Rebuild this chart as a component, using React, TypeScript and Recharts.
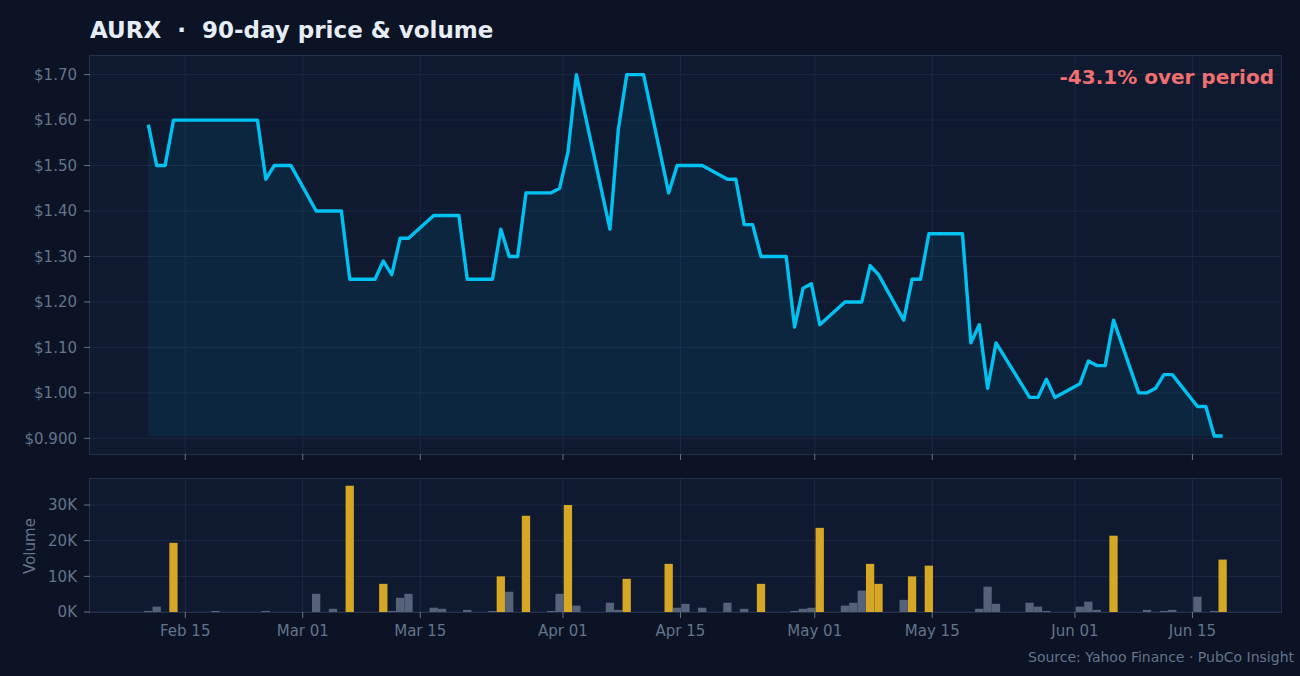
import { Area, AreaChart, Bar, BarChart, CartesianGrid, Cell, XAxis, YAxis } from 'recharts';

const YEAR = 2026;

// trading sessions (MM-DD), closing price and volume
const dates = [
  '02-10', '02-11', '02-12', '02-13', '02-17', '02-18', '02-19', '02-20', '02-23', '02-24',
  '02-25', '02-26', '02-27', '03-02', '03-03', '03-04', '03-05', '03-06', '03-09', '03-10',
  '03-11', '03-12', '03-13', '03-16', '03-17', '03-18', '03-19', '03-20', '03-23', '03-24',
  '03-25', '03-26', '03-27', '03-30', '03-31', '04-01', '04-02', '04-06', '04-07', '04-08',
  '04-09', '04-10', '04-13', '04-14', '04-15', '04-16', '04-17', '04-20', '04-21', '04-22',
  '04-23', '04-24', '04-27', '04-28', '04-29', '04-30', '05-01', '05-04', '05-05', '05-06',
  '05-07', '05-08', '05-11', '05-12', '05-13', '05-14', '05-15', '05-18', '05-19', '05-20',
  '05-21', '05-22', '05-26', '05-27', '05-28', '05-29', '06-01', '06-02', '06-03', '06-04',
  '06-05', '06-08', '06-09', '06-10', '06-11', '06-12', '06-15', '06-16', '06-17', '06-18',
];

const prices = [
  1.59, 1.5, 1.5, 1.6, 1.6, 1.6, 1.6, 1.6, 1.6, 1.47,
  1.5, 1.5, 1.5, 1.4, 1.4, 1.4, 1.4, 1.25, 1.25, 1.29,
  1.26, 1.34, 1.34, 1.39, 1.39, 1.39, 1.39, 1.25, 1.25, 1.36,
  1.3, 1.3, 1.44, 1.44, 1.45, 1.53, 1.7, 1.36, 1.58, 1.7,
  1.7, 1.7, 1.44, 1.5, 1.5, 1.5, 1.5, 1.47, 1.47, 1.37,
  1.37, 1.3, 1.3, 1.145, 1.23, 1.24, 1.15, 1.2, 1.2, 1.2,
  1.28, 1.26, 1.16, 1.25, 1.25, 1.35, 1.35, 1.35, 1.11, 1.15,
  1.01, 1.11, 0.99, 0.99, 1.03, 0.99, 1.02, 1.07, 1.06, 1.06,
  1.16, 1.0, 1.0, 1.01, 1.04, 1.04, 0.97, 0.97, 0.905, 0.905,
];

const volumes = [
  300, 1500, 0, 19400, 0, 300, 0, 0, 0, 300,
  0, 0, 0, 5100, 0, 900, 0, 35400, 0, 7900,
  300, 4000, 5100, 1200, 900, 0, 0, 600, 300, 10000,
  5700, 0, 27000, 300, 5100, 30000, 1800, 2600, 600, 9300,
  0, 0, 13500, 1200, 2300, 0, 1200, 2600, 0, 900,
  0, 7900, 0, 300, 900, 1200, 23600, 1800, 2600, 6000,
  13500, 7900, 3400, 10000, 0, 13000, 0, 0, 0, 900,
  7100, 2300, 2600, 1500, 300, 0, 1500, 2900, 600, 0,
  21400, 0, 600, 0, 300, 600, 4300, 0, 300, 14700,
];

const xTickDates = ['02-15', '03-01', '03-15', '04-01', '04-15', '05-01', '05-15', '06-01', '06-15'];
const priceTicks = [0.9, 1.0, 1.1, 1.2, 1.3, 1.4, 1.5, 1.6, 1.7];
const volumeTicks = [0, 10000, 20000, 30000];

const HIGH_VOLUME = 7500;
const SESSION_OFFSET = 0.6;
const X_DOMAIN: [number, number] = [-11.35, 130.55];
const MONTHS = ['Jan', 'Feb', 'Mar', 'Apr', 'May', 'Jun', 'Jul', 'Aug', 'Sep', 'Oct', 'Nov', 'Dec'];
const ORIGIN = Date.UTC(YEAR, 1, 15);

const dayOf = (md: string) => {
  const [m, d] = md.split('-').map(Number);
  return (Date.UTC(YEAR, m - 1, d) - ORIGIN) / 864e5;
};
const fmtDay = (t: number) => {
  const dt = new Date(ORIGIN + Math.round(t) * 864e5);
  return `${MONTHS[dt.getUTCMonth()]} ${String(dt.getUTCDate()).padStart(2, '0')}`;
};
const fmtPrice = (v: number) => (v < 1 ? `$${v.toFixed(3)}` : `$${v.toFixed(2)}`);

const rows = dates.map((d, i) => ({ t: dayOf(d) + SESSION_OFFSET, price: prices[i], volume: volumes[i] }));
const xTicks = xTickDates.map(dayOf);
const minPrice = Math.min(...prices);
const change = (prices[prices.length - 1] / prices[0] - 1) * 100;

const FONT = '"DejaVu Sans", sans-serif';
const BG = '#0b1324';
const PANEL = '#0f1a30';
const FRAME = '#22304a';
const GRID = '#1c2841';
const MUTED = '#64748b';
const LINE = '#00c2f2';
const GOLD = '#d6a625';
const GRAY = '#56627a';

const tickStyle = { fill: MUTED, fontSize: 15, fontFamily: FONT };

function Frame({ top, height }: { top: number; height: number }) {
  return (
    <div
      style={{
        position: 'absolute', left: 89, top: top - 1, width: 1193, height: height + 2,
        background: PANEL, border: `1px solid ${FRAME}`, boxSizing: 'border-box',
      }}
    />
  );
}

export default function App() {
  return (
    <div style={{ position: 'fixed', left: 0, top: 0, width: 1300, height: 676, background: BG, overflow: 'hidden' }}>
      <Frame top={56} height={398} />
      <Frame top={479} height={133} />

      <div style={{ position: 'absolute', left: 0, top: 0 }}>
        <AreaChart width={1300} height={484} data={rows} margin={{ top: 56, right: 19, left: 0, bottom: 0 }}>
          <CartesianGrid stroke={GRID} vertical horizontal verticalValues={xTicks} horizontalValues={priceTicks} />
          <XAxis
            dataKey="t" type="number" domain={X_DOMAIN} ticks={xTicks} allowDataOverflow height={30}
            axisLine={false} tickLine={{ stroke: MUTED }} tickSize={6} tick={() => <g />}
          />
          <YAxis
            type="number" domain={[0.8655, 1.741]} ticks={priceTicks} allowDataOverflow width={90}
            axisLine={false} tickLine={{ stroke: MUTED }} tickSize={6} tickMargin={7}
            tick={tickStyle} tickFormatter={fmtPrice}
          />
          <Area
            type="linear" dataKey="price" baseValue={minPrice} stroke={LINE} strokeWidth={3.4}
            strokeLinejoin="round" fill={LINE} fillOpacity={0.08} dot={false} activeDot={false}
            isAnimationActive={false}
          />
        </AreaChart>
      </div>

      <div style={{ position: 'absolute', left: 0, top: 470 }}>
        <BarChart width={1300} height={206} data={rows} margin={{ top: 9, right: 19, left: 0, bottom: 24 }}>
          <XAxis
            dataKey="t" type="number" domain={X_DOMAIN} ticks={xTicks} allowDataOverflow height={40}
            axisLine={false} tickLine={{ stroke: MUTED }} tickSize={6} tickMargin={7}
            tick={tickStyle} tickFormatter={fmtDay}
          />
          <YAxis
            type="number" domain={[0, 37300]} ticks={volumeTicks} allowDataOverflow width={90}
            axisLine={false} tickLine={{ stroke: MUTED }} tickSize={6} tickMargin={7}
            tick={tickStyle} tickFormatter={(v: number) => `${v / 1000}K`}
          />
          <Bar dataKey="volume" barSize={8.3} isAnimationActive={false}>
            {rows.map((r) => (
              <Cell key={r.t} fill={r.volume >= HIGH_VOLUME ? GOLD : GRAY} />
            ))}
          </Bar>
          <CartesianGrid stroke="#2a3650" strokeOpacity={0.6} vertical horizontal verticalValues={xTicks} horizontalValues={volumeTicks} />
        </BarChart>
      </div>

      <svg width={1300} height={676} style={{ position: 'absolute', left: 0, top: 0, pointerEvents: 'none' }}>
        <text x={90} y={37.5} fill="#e6edf5" fontFamily={FONT} fontSize={23} fontWeight="bold" style={{ whiteSpace: 'pre' }}>
          {'AURX  ·  90-day price & volume'}
        </text>
        <text x={1274} y={83.5} textAnchor="end" fill="#f07070" fontFamily={FONT} fontSize={20} fontWeight="bold">
          {`${change.toFixed(1)}% over period`}
        </text>
        <text
          x={30} y={546} transform="rotate(-90 30 546)" textAnchor="middle" dominantBaseline="central"
          fill={MUTED} fontFamily={FONT} fontSize={15}
        >
          Volume
        </text>
        <text x={1294} y={662} textAnchor="end" fill={MUTED} fontFamily={FONT} fontSize={14}>
          Source: Yahoo Finance · PubCo Insight
        </text>
      </svg>
    </div>
  );
}
